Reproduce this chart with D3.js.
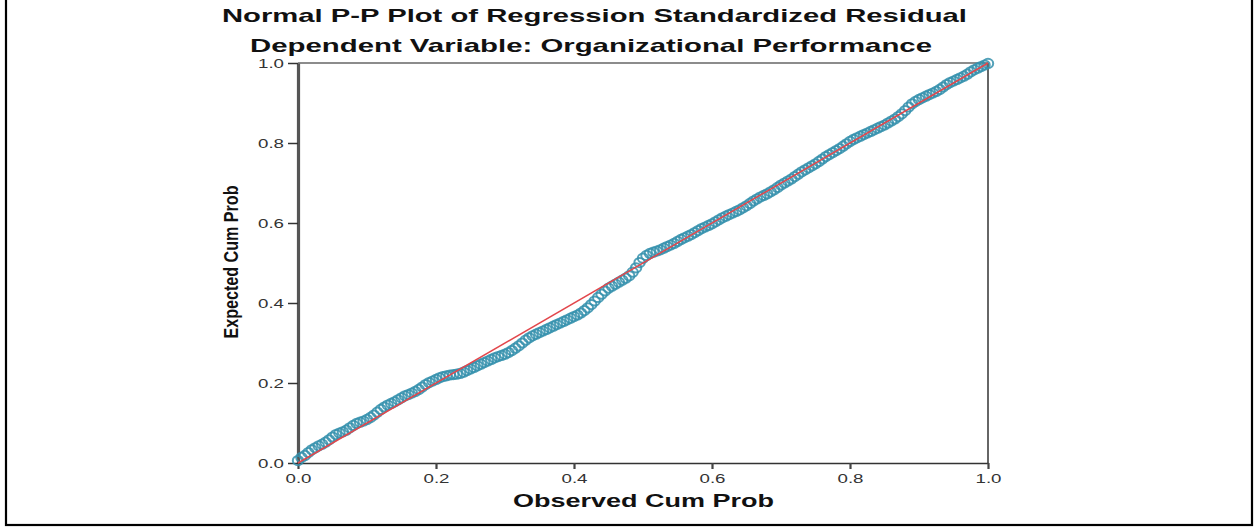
<!DOCTYPE html>
<html><head><meta charset="utf-8">
<script src="https://cdn.jsdelivr.net/npm/d3@7"></script>
<style>body{margin:0;background:#fff;}svg{display:block;}</style>
</head><body>
<svg id="c" width="1254" height="529"></svg>
<script>
const titleLines = ["Normal P-P Plot of Regression Standardized Residual", "Dependent Variable: Organizational Performance"];
const xLabel = "Observed Cum Prob";
const yLabel = "Expected Cum Prob";
const tickValues = [0.0, 0.2, 0.4, 0.6, 0.8, 1.0];
const observed = [
0.000,0.005,0.010,0.015,0.020,0.025,0.030,0.035,0.040,0.045,
0.050,0.055,0.060,0.065,0.070,0.075,0.080,0.085,0.090,0.095,
0.100,0.105,0.110,0.115,0.120,0.125,0.130,0.135,0.140,0.145,
0.150,0.155,0.160,0.165,0.170,0.175,0.180,0.185,0.190,0.195,
0.200,0.205,0.210,0.215,0.220,0.225,0.230,0.235,0.240,0.245,
0.250,0.255,0.260,0.265,0.270,0.275,0.280,0.285,0.290,0.295,
0.300,0.305,0.310,0.315,0.320,0.325,0.330,0.335,0.340,0.345,
0.350,0.355,0.360,0.365,0.370,0.375,0.380,0.385,0.390,0.395,
0.400,0.405,0.410,0.415,0.420,0.425,0.430,0.435,0.440,0.445,
0.450,0.455,0.460,0.465,0.470,0.475,0.480,0.485,0.490,0.495,
0.500,0.505,0.510,0.515,0.520,0.525,0.530,0.535,0.540,0.545,
0.550,0.555,0.560,0.565,0.570,0.575,0.580,0.585,0.590,0.595,
0.600,0.605,0.610,0.615,0.620,0.625,0.630,0.635,0.640,0.645,
0.650,0.655,0.660,0.665,0.670,0.675,0.680,0.685,0.690,0.695,
0.700,0.705,0.710,0.715,0.720,0.725,0.730,0.735,0.740,0.745,
0.750,0.755,0.760,0.765,0.770,0.775,0.780,0.785,0.790,0.795,
0.800,0.805,0.810,0.815,0.820,0.825,0.830,0.835,0.840,0.845,
0.850,0.855,0.860,0.865,0.870,0.875,0.880,0.885,0.890,0.895,
0.900,0.905,0.910,0.915,0.920,0.925,0.930,0.935,0.940,0.945,
0.950,0.955,0.960,0.965,0.970,0.975,0.980,0.985,0.990,0.995,
1.000];
const expected = [
0.006,0.014,0.019,0.026,0.033,0.038,0.043,0.047,0.052,0.058,
0.065,0.071,0.075,0.078,0.082,0.088,0.094,0.099,0.102,0.105,
0.109,0.114,0.120,0.127,0.134,0.140,0.145,0.149,0.153,0.158,
0.163,0.168,0.171,0.175,0.179,0.184,0.190,0.196,0.201,0.205,
0.209,0.213,0.216,0.218,0.220,0.221,0.222,0.224,0.227,0.231,
0.235,0.239,0.243,0.247,0.251,0.255,0.259,0.263,0.266,0.269,
0.272,0.276,0.281,0.287,0.293,0.300,0.307,0.313,0.318,0.322,
0.326,0.330,0.334,0.338,0.342,0.346,0.350,0.354,0.358,0.362,
0.366,0.370,0.375,0.381,0.388,0.396,0.405,0.414,0.422,0.430,
0.437,0.442,0.447,0.452,0.457,0.462,0.468,0.477,0.488,0.501,
0.512,0.519,0.524,0.527,0.530,0.533,0.537,0.541,0.545,0.549,
0.554,0.559,0.563,0.567,0.571,0.576,0.581,0.586,0.590,0.594,
0.598,0.603,0.608,0.613,0.617,0.621,0.625,0.629,0.633,0.638,
0.643,0.649,0.655,0.660,0.665,0.669,0.673,0.678,0.683,0.689,
0.695,0.700,0.705,0.710,0.716,0.722,0.728,0.733,0.738,0.743,
0.748,0.754,0.760,0.766,0.771,0.776,0.781,0.786,0.792,0.798,
0.804,0.809,0.813,0.817,0.821,0.825,0.829,0.833,0.837,0.841,
0.845,0.850,0.855,0.860,0.866,0.873,0.881,0.890,0.898,0.904,
0.909,0.913,0.917,0.921,0.925,0.929,0.934,0.940,0.946,0.951,
0.955,0.959,0.963,0.967,0.972,0.978,0.983,0.987,0.991,0.995,
0.999];

const svg = d3.select("#c");
const L = 298, R = 988, T = 63, B = 463;
const x = d3.scaleLinear().domain([0, 1]).range([L, R]);
const y = d3.scaleLinear().domain([0, 1]).range([B, T]);
const FONT = "Liberation Sans, Arial, sans-serif";

// outer frame
svg.append("rect").attr("x", 6).attr("y", -2).attr("width", 1246).attr("height", 527)
  .attr("fill", "none").attr("stroke", "#000").attr("stroke-width", 2.2);

// titles
svg.append("text").attr("x", 594.5).attr("y", 22).attr("text-anchor", "middle")
  .attr("font-family", FONT).attr("font-weight", "bold")
  .attr("font-size", 18.5).attr("fill", "#111")
  .attr("textLength", 745).attr("lengthAdjust", "spacingAndGlyphs").text(titleLines[0]);
svg.append("text").attr("x", 591).attr("y", 51.5).attr("text-anchor", "middle")
  .attr("font-family", FONT).attr("font-weight", "bold")
  .attr("font-size", 18.5).attr("fill", "#111")
  .attr("textLength", 682).attr("lengthAdjust", "spacingAndGlyphs").text(titleLines[1]);

// frame top & right
svg.append("line").attr("x1", L).attr("x2", R).attr("y1", T).attr("y2", T)
  .attr("stroke", "#666").attr("stroke-width", 1.5);
svg.append("line").attr("x1", R).attr("x2", R).attr("y1", T).attr("y2", B)
  .attr("stroke", "#666").attr("stroke-width", 2);

// axes
const fmt = d3.format(".1f");
const gx = svg.append("g").attr("transform", `translate(0,${B})`)
  .call(d3.axisBottom(x).tickValues(tickValues).tickFormat(fmt).tickSize(6).tickSizeOuter(0));
gx.select(".domain").attr("stroke", "#333").attr("stroke-width", 1.5);
gx.selectAll(".tick line").attr("stroke", "#444").attr("stroke-width", 2.2);
gx.selectAll(".tick text").attr("font-family", FONT)
  .attr("font-size", 13).attr("fill", "#333").attr("dy", "0.85em")
  .attr("textLength", 26).attr("lengthAdjust", "spacingAndGlyphs");

const gy = svg.append("g").attr("transform", `translate(${L},0)`)
  .call(d3.axisLeft(y).tickValues(tickValues).tickFormat(fmt).tickSize(10).tickSizeOuter(0));
gy.select(".domain").attr("stroke", "#555").attr("stroke-width", 3.2);
gy.selectAll(".tick line").attr("stroke", "#333").attr("stroke-width", 1.5);
gy.selectAll(".tick text").attr("font-family", FONT)
  .attr("font-size", 12.5).attr("fill", "#333").attr("x", -14)
  .attr("textLength", 26).attr("lengthAdjust", "spacingAndGlyphs");

// points
const pts = observed.map((o, i) => ({o, e: expected[i]}));
svg.append("g").selectAll("ellipse").data(pts).join("ellipse")
  .attr("cx", d => x(d.o)).attr("cy", d => y(d.e)).attr("rx", 5.2).attr("ry", 4.6)
  .attr("fill", "none").attr("stroke", "#3590ad").attr("stroke-width", 2).attr("stroke-opacity", 0.85);

// reference line
svg.append("line").attr("x1", x(0)).attr("y1", y(0)).attr("x2", x(1)).attr("y2", y(1))
  .attr("stroke", "#e2474c").attr("stroke-width", 1.5);

// axis labels
svg.append("text").attr("x", 643.5).attr("y", 507).attr("text-anchor", "middle")
  .attr("font-family", FONT).attr("font-weight", "bold")
  .attr("font-size", 18).attr("fill", "#111")
  .attr("textLength", 261).attr("lengthAdjust", "spacingAndGlyphs").text(xLabel);
svg.append("text").attr("transform", "translate(238,262) rotate(-90)").attr("text-anchor", "middle")
  .attr("font-family", "Liberation Sans Narrow, Liberation Sans, Arial, sans-serif").attr("font-weight", "bold")
  .attr("font-size", 21).attr("fill", "#111")
  .attr("textLength", 153).attr("lengthAdjust", "spacingAndGlyphs").text(yLabel);
</script>
</body></html>
